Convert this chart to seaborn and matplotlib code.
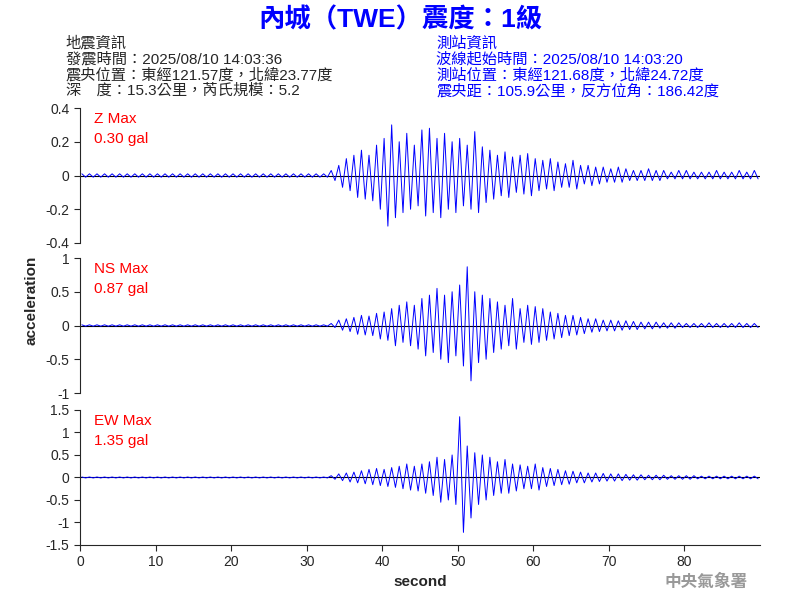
import matplotlib
matplotlib.use("Agg")
import matplotlib.pyplot as plt
import seaborn as sns
import numpy as np
import pandas as pd

sns.set_style("white")
plt.rcParams['font.family'] = ['Liberation Sans', 'Noto Sans CJK TC', 'DejaVu Sans']

seconds = list(range(90))
z_pos = [0.01]*33 + [0.03, 0.06, 0.10, 0.12, 0.15, 0.12, 0.18, 0.22, 0.30, 0.20, 0.25, 0.18, 0.27, 0.28, 0.22, 0.25, 0.20, 0.22, 0.18, 0.26, 0.17, 0.15, 0.12, 0.14, 0.11, 0.12, 0.13, 0.10, 0.09, 0.10, 0.08, 0.07, 0.09, 0.06, 0.06, 0.05, 0.05, 0.04, 0.05, 0.04, 0.03, 0.03, 0.04, 0.03, 0.03, 0.02, 0.03, 0.03, 0.02, 0.02, 0.02, 0.03, 0.02, 0.02, 0.03, 0.02, 0.03]
z_neg = [0.01]*33 + [0.03, 0.07, 0.09, 0.13, 0.14, 0.15, 0.20, 0.30, 0.25, 0.22, 0.20, 0.18, 0.24, 0.22, 0.25, 0.20, 0.22, 0.18, 0.20, 0.22, 0.16, 0.14, 0.12, 0.13, 0.10, 0.11, 0.12, 0.09, 0.08, 0.09, 0.07, 0.07, 0.08, 0.05, 0.06, 0.05, 0.04, 0.04, 0.04, 0.03, 0.03, 0.03, 0.03, 0.03, 0.02, 0.02, 0.02, 0.02, 0.02, 0.02, 0.02, 0.02, 0.02, 0.02, 0.02, 0.02, 0.02]
ns_pos = [0.01]*33 + [0.03, 0.08, 0.10, 0.12, 0.15, 0.14, 0.18, 0.20, 0.25, 0.30, 0.35, 0.30, 0.40, 0.45, 0.55, 0.45, 0.50, 0.60, 0.87, 0.50, 0.45, 0.40, 0.35, 0.30, 0.40, 0.25, 0.30, 0.28, 0.25, 0.20, 0.18, 0.15, 0.15, 0.12, 0.10, 0.10, 0.08, 0.08, 0.07, 0.07, 0.06, 0.05, 0.05, 0.05, 0.04, 0.04, 0.04, 0.03, 0.03, 0.03, 0.04, 0.03, 0.03, 0.03, 0.04, 0.03, 0.03]
ns_neg = [0.01]*33 + [0.03, 0.07, 0.09, 0.13, 0.14, 0.15, 0.20, 0.22, 0.30, 0.25, 0.30, 0.35, 0.45, 0.40, 0.50, 0.55, 0.45, 0.60, 0.82, 0.55, 0.50, 0.40, 0.35, 0.30, 0.35, 0.25, 0.28, 0.25, 0.22, 0.20, 0.18, 0.15, 0.14, 0.12, 0.10, 0.09, 0.08, 0.08, 0.07, 0.06, 0.06, 0.05, 0.05, 0.04, 0.04, 0.04, 0.03, 0.03, 0.03, 0.03, 0.03, 0.03, 0.03, 0.03, 0.03, 0.03, 0.03]
ew_pos = [0.01]*33 + [0.04, 0.08, 0.10, 0.12, 0.15, 0.18, 0.20, 0.18, 0.22, 0.25, 0.30, 0.25, 0.30, 0.35, 0.45, 0.40, 0.50, 1.35, 0.70, 0.55, 0.50, 0.45, 0.35, 0.40, 0.30, 0.28, 0.25, 0.30, 0.22, 0.20, 0.18, 0.15, 0.14, 0.12, 0.10, 0.10, 0.09, 0.08, 0.08, 0.07, 0.06, 0.06, 0.05, 0.05, 0.05, 0.04, 0.04, 0.04, 0.04, 0.03, 0.03, 0.03, 0.03, 0.03, 0.03, 0.03, 0.03]
ew_neg = [0.01]*33 + [0.04, 0.07, 0.10, 0.12, 0.14, 0.16, 0.18, 0.20, 0.22, 0.25, 0.28, 0.30, 0.35, 0.40, 0.55, 0.50, 0.60, 1.22, 0.90, 0.60, 0.50, 0.40, 0.35, 0.35, 0.30, 0.25, 0.25, 0.28, 0.20, 0.18, 0.16, 0.15, 0.12, 0.12, 0.10, 0.09, 0.08, 0.08, 0.07, 0.06, 0.06, 0.05, 0.05, 0.05, 0.04, 0.04, 0.04, 0.04, 0.03, 0.03, 0.03, 0.03, 0.03, 0.03, 0.03, 0.03, 0.03]

def trace(pos, neg):
    t, v = [], []
    for s, p, n in zip(seconds, pos, neg):
        t += [s + 0.25, s + 0.75]
        v += [p, -n]
    return pd.DataFrame({"second": t, "acc": v})

fig = plt.figure(figsize=(8, 6), dpi=100)
panels = [
    (z_pos, z_neg, 0.595, 0.4, [-0.4, -0.2, 0, 0.2, 0.4], ["-0.4", "-0.2", "0", "0.2", "0.4"], "Z Max\n0.30 gal"),
    (ns_pos, ns_neg, 0.345, 1.0, [-1, -0.5, 0, 0.5, 1], ["-1", "-0.5", "0", "0.5", "1"], "NS Max\n0.87 gal"),
    (ew_pos, ew_neg, 0.0917, 1.5, [-1.5, -1, -0.5, 0, 0.5, 1, 1.5], ["-1.5", "-1", "-0.5", "0", "0.5", "1", "1.5"], "EW Max\n1.35 gal"),
]
for i, (p, n, b, lim, ticks, labels, label) in enumerate(panels):
    ax = fig.add_axes([0.1, b, 0.85, 0.225])
    ax.axhline(0, color="black", lw=0.8)
    sns.lineplot(data=trace(p, n), x="second", y="acc", ax=ax, color="blue", lw=0.7)
    ax.set_xlim(0, 90)
    ax.set_ylim(-lim, lim)
    ax.set_yticks(ticks)
    ax.set_yticklabels(labels)
    ax.set_ylabel("")
    ax.set_xlabel("")
    for s in ["top", "right"]:
        ax.spines[s].set_visible(False)
    ax.tick_params(axis="y", left=True, length=4, labelsize=10)
    if i < 2:
        ax.spines["bottom"].set_visible(False)
        ax.set_xticks([])
    else:
        ax.set_xticks([0, 10, 20, 30, 40, 50, 60, 70, 80])
        ax.tick_params(axis="x", bottom=True, length=4, labelsize=10)
        ax.set_xlabel("second", fontsize=11, weight="bold")
    ax.text(0.02, 0.97, label, transform=ax.transAxes, color="red", fontsize=11, va="top", linespacing=1.5)

fig.text(0.04, 0.5, "acceleration", rotation=90, va="center", ha="center", fontsize=11, weight="bold")
fig.text(0.5, 0.968, "內城（TWE）震度：1級", color="#0000ff", fontsize=19, ha="center", va="center", weight="bold")
left = ["地震資訊", "發震時間：2025/08/10 14:03:36", "震央位置：東經121.57度，北緯23.77度", "深　度：15.3公里，芮氏規模：5.2"]
right = ["測站資訊", "波線起始時間：2025/08/10 14:03:20", "測站位置：東經121.68度，北緯24.72度", "震央距：105.9公里，反方位角：186.42度"]
for k, (l, r) in enumerate(zip(left, right)):
    y = 0.928 - k * 0.0265
    fig.text(0.082, y, l, fontsize=11, va="center")
    fig.text(0.545, y, r, fontsize=11, va="center", color="#0000ff")
fig.text(0.935, 0.03, "中央氣象署", color="#999999", fontsize=12, ha="right", va="center", weight="bold")
fig.savefig("out.png", dpi=100)
